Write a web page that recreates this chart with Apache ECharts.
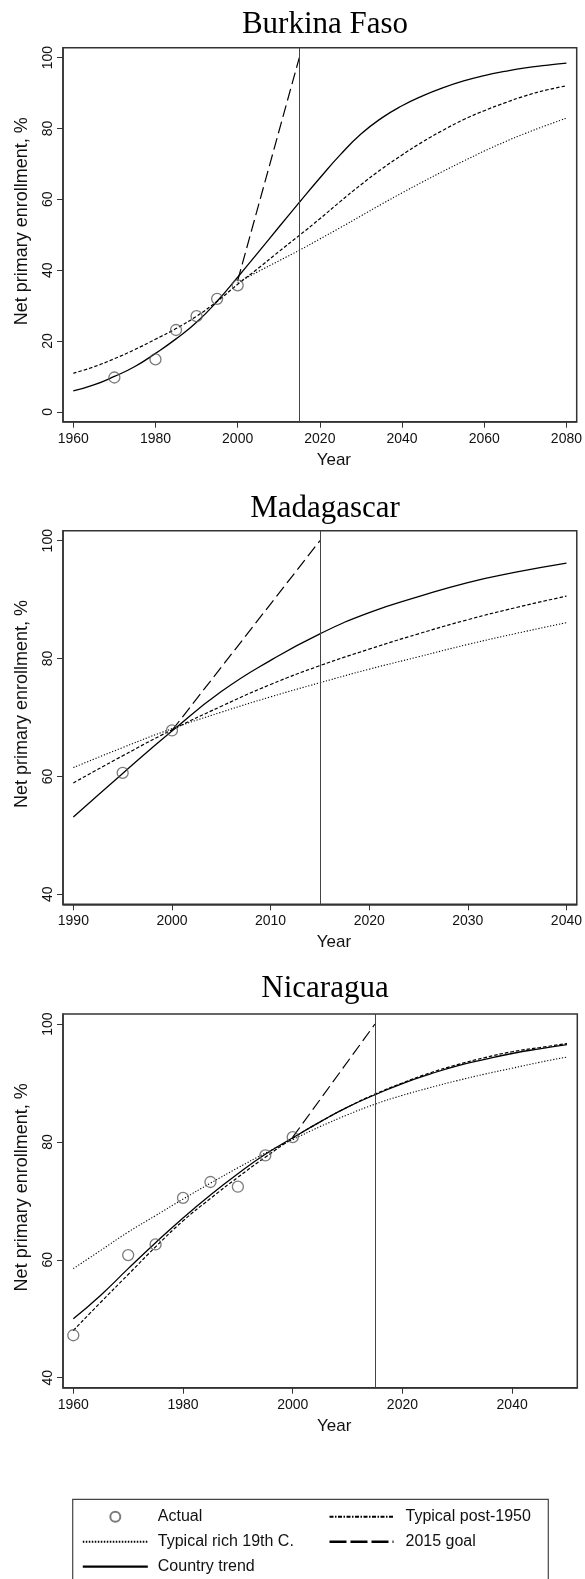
<!DOCTYPE html>
<html>
<head>
<meta charset="utf-8">
<script src="https://cdn.jsdelivr.net/npm/echarts@6/dist/echarts.min.js"></script>
<style>
html,body{margin:0;padding:0;background:#fff;}
#chart{width:585px;height:1579px;}
</style>
</head>
<body>
<div id="chart"></div>
<script>
// ---------- DATA ----------
const countries = ['Burkina Faso', 'Madagascar', 'Nicaragua'];
const goalYear = 2015;

// Burkina Faso
const bfActualYears = [1970, 1980, 1985, 1990, 1995, 2000];
const bfActual = [9.7, 14.8, 23.1, 27.0, 31.9, 35.7];
const bfYears = [1960,1965,1970,1975,1980,1985,1990,1995,2000,2005,2010,2015,2020,2025,2030,2035,2040,2045,2050,2055,2060,2065,2070,2075,2080];
const bfTrend = [5.9,7.6,10.0,12.8,16.5,20.6,25.3,31.2,38.0,45.0,52.1,59.1,66.0,72.6,78.4,82.9,86.4,89.2,91.5,93.4,94.9,96.1,97.1,97.8,98.4];
const bfPost1950 = [10.9,12.7,15.0,17.6,20.5,23.5,27.0,31.2,36.0,40.5,45.2,49.8,54.5,59.4,64.1,68.5,72.5,76.2,79.5,82.5,85.0,87.2,89.2,90.8,92.0];
const bfRichYears = [2000,2005,2010,2015,2020,2025,2030,2035,2040,2045,2050,2055,2060,2065,2070,2075,2080];
const bfRich19 = [36.5,39.6,42.6,45.6,48.8,52.0,55.3,58.6,61.8,64.9,67.9,70.8,73.6,76.2,78.6,80.8,82.9];
const bfGoalYears = [2000, 2015];
const bfGoal = [37.0, 100];

// Madagascar
const mgActualYears = [1995, 2000];
const mgActual = [60.6, 67.8];
const mgYears = [1990,1995,2000,2005,2010,2015,2020,2025,2030,2035,2040];
const mgTrend = [53.1,60.5,67.7,74.4,79.7,84.2,87.8,90.5,92.9,94.7,96.2];
const mgPost1950 = [58.9,63.5,67.9,71.9,75.6,78.8,81.6,84.2,86.6,88.7,90.6];
const mgRich19 = [61.5,64.9,68.1,70.9,73.5,75.9,78.2,80.3,82.4,84.3,86.1];
const mgGoalYears = [2000, 2015];
const mgGoal = [67.8, 100];

// Nicaragua
const niActualYears = [1960, 1970, 1975, 1980, 1985, 1990, 1995, 2000];
const niActual = [47.2, 60.8, 62.6, 70.5, 73.2, 72.4, 77.7, 80.8];
const niYears = [1960,1965,1970,1975,1980,1985,1990,1995,2000,2005,2010,2015,2020,2025,2030,2035,2040,2045,2050];
const niTrend = [50.0,54.0,58.5,62.9,67.1,71.0,74.6,77.9,80.7,83.4,85.9,88.0,89.9,91.5,92.9,94.0,95.0,95.8,96.5];
const niPost1950 = [48.0,52.8,57.5,62.2,66.6,70.4,74.0,77.4,80.6,83.4,85.9,88.1,90.0,91.7,93.1,94.3,95.3,96.0,96.7];
const niRich19 = [58.5,61.6,64.7,67.5,70.3,73.0,75.6,78.1,80.4,82.6,84.6,86.4,87.9,89.2,90.4,91.5,92.5,93.5,94.4];
const niGoalYears = [2000, 2015];
const niGoal = [80.8, 100];

// Tick labels
const bfXTicks = [1960, 1980, 2000, 2020, 2040, 2060, 2080];
const bfYTicks = [0, 20, 40, 60, 80, 100];
const mgXTicks = [1990, 2000, 2010, 2020, 2030, 2040];
const mgYTicks = [40, 60, 80, 100];
const niXTicks = [1960, 1980, 2000, 2020, 2040];
const niYTicks = [40, 60, 80, 100];

// ---------- BUILD ----------
const zip = (xs, ys) => xs.map((x, i) => [x, ys[i]]);
const SANS = 'Liberation Sans, Arial, Helvetica, sans-serif';
const SERIF = 'Liberation Serif, Times New Roman, serif';
const INK = '#111';
const plain = v => String(v);

const panels = [
  {title: countries[0], top: 47.7, height: 374, xMin: 1957.5, xMax: 2082.5, yMin: -2.78, yMax: 102.78,
   xTicks: bfXTicks, yTicks: bfYTicks, titleTop: 4,
   actual: zip(bfActualYears, bfActual), trend: zip(bfYears, bfTrend), post: zip(bfYears, bfPost1950),
   rich: zip(bfRichYears, bfRich19), goal: zip(bfGoalYears, bfGoal)},
  {title: countries[1], top: 530.7, height: 373.6, xMin: 1988.95, xMax: 2041.05, yMin: 38.3, yMax: 101.7,
   xTicks: mgXTicks, yTicks: mgYTicks, titleTop: 488,
   actual: zip(mgActualYears, mgActual), trend: zip(mgYears, mgTrend), post: zip(mgYears, mgPost1950),
   rich: zip(mgYears, mgRich19), goal: zip(mgGoalYears, mgGoal)},
  {title: countries[2], top: 1014, height: 373.7, xMin: 1958.12, xMax: 2051.88, yMin: 38.3, yMax: 101.7,
   xTicks: niXTicks, yTicks: niYTicks, titleTop: 968,
   actual: zip(niActualYears, niActual), trend: zip(niYears, niTrend), post: zip(niYears, niPost1950),
   rich: zip(niYears, niRich19), goal: zip(niGoalYears, niGoal)}
];

const grids = [], xAxes = [], yAxes = [], titles = [], series = [];
panels.forEach((p, i) => {
  grids.push({left: 63, width: 514.3, top: p.top, height: p.height, show: true,
    borderColor: '#333', borderWidth: 1.5, backgroundColor: '#fff'});
  titles.push({text: p.title, left: 320, textAlign: 'center', top: p.titleTop,
    textStyle: {fontFamily: SERIF, fontSize: 31, fontWeight: 'normal', color: '#000'}});
  xAxes.push({type: 'value', gridIndex: i, min: p.xMin, max: p.xMax,
    axisLine: {show: true, onZero: false, lineStyle: {color: '#333', width: 1.5}},
    axisTick: {show: true, length: 6, customValues: p.xTicks, lineStyle: {color: '#333', width: 1}},
    axisLabel: {customValues: p.xTicks, formatter: plain, fontSize: 14, color: INK, margin: 10, fontFamily: SANS},
    splitLine: {show: false},
    name: 'Year', nameLocation: 'middle', nameGap: 30,
    nameTextStyle: {fontSize: 17, color: INK, fontFamily: SANS, padding: [0, 0, 0, 28]}});
  yAxes.push({type: 'value', gridIndex: i, min: p.yMin, max: p.yMax,
    axisLine: {show: true, onZero: false, lineStyle: {color: '#333', width: 1.5}},
    axisTick: {show: true, length: 6, customValues: p.yTicks, lineStyle: {color: '#333', width: 1}},
    axisLabel: {customValues: p.yTicks, formatter: plain, fontSize: 14, color: INK, margin: 8, rotate: 90, fontFamily: SANS},
    splitLine: {show: false},
    name: 'Net primary enrollment, %', nameLocation: 'middle', nameGap: 32, nameRotate: 90,
    nameTextStyle: {fontSize: 18, color: INK, fontFamily: SANS, padding: [0, 0, 0, 27]}});

  const base = {xAxisIndex: i, yAxisIndex: i, silent: true, animation: false};
  series.push(Object.assign({}, base, {name: 'Typical rich 19th C.', type: 'line', data: p.rich,
    smooth: true, showSymbol: false, symbol: 'none',
    lineStyle: {color: '#000', width: 1.1, type: [1.2, 1.8]}, itemStyle: {color: '#000'}}));
  series.push(Object.assign({}, base, {name: 'Typical post-1950', type: 'line', data: p.post,
    smooth: true, showSymbol: false, symbol: 'none',
    lineStyle: {color: '#000', width: 1.2, type: [3.5, 2]}, itemStyle: {color: '#000'}}));
  series.push(Object.assign({}, base, {name: 'Country trend', type: 'line', data: p.trend,
    smooth: true, showSymbol: false, symbol: 'none',
    lineStyle: {color: '#000', width: 1.3, type: 'solid'}, itemStyle: {color: '#000'},
    markLine: {silent: true, symbol: 'none', label: {show: false}, animation: false,
      lineStyle: {color: '#444', width: 1, type: 'solid'}, data: [{xAxis: goalYear}]}}));
  series.push(Object.assign({}, base, {name: '2015 goal', type: 'line', data: p.goal,
    showSymbol: false, symbol: 'none',
    lineStyle: {color: '#000', width: 1.2, type: [12, 5]}, itemStyle: {color: '#000'}}));
  series.push(Object.assign({}, base, {name: 'Actual', type: 'scatter', data: p.actual,
    symbol: 'circle', symbolSize: 11, z: 5,
    itemStyle: {color: 'rgba(0,0,0,0)', borderColor: '#5a5a5a', borderWidth: 1.3}}));
});

const legendText = {fontSize: 16, lineHeight: 16, color: INK, fontFamily: SANS};
const hideSym = {opacity: 0};
const chart = echarts.init(document.getElementById('chart'), null, {renderer: 'canvas'});
chart.setOption({
  backgroundColor: '#fff',
  animation: false,
  title: titles,
  grid: grids,
  xAxis: xAxes,
  yAxis: yAxes,
  series: series,
  legend: [
    {orient: 'vertical', left: 81.7, top: 1508.7, padding: 0, itemWidth: 65, itemHeight: 10, itemGap: 9,
     selectedMode: false,
     textStyle: Object.assign({}, legendText, {padding: [0, 0, 0, 5]}),
     data: [
       {name: 'Actual', itemStyle: {color: 'rgba(0,0,0,0)', borderColor: '#5a5a5a', borderWidth: 2}},
       {name: 'Typical rich 19th C.', itemStyle: hideSym, lineStyle: {width: 2, type: [1.5, 1.5]}},
       {name: 'Country trend', itemStyle: hideSym, lineStyle: {width: 2.2}}
     ]},
    {orient: 'vertical', left: 328.3, top: 1508.7, padding: 0, itemWidth: 64, itemHeight: 10, itemGap: 9,
     selectedMode: false,
     textStyle: Object.assign({}, legendText, {padding: [0, 0, 0, 7]}),
     data: [
       {name: 'Typical post-1950', itemStyle: hideSym, lineStyle: {width: 2, type: [4, 1.5, 1.5, 1.5]}},
       {name: '2015 goal', itemStyle: hideSym, lineStyle: {width: 2.4, type: [17, 4]}}
     ]}
  ],
  graphic: [
    {type: 'rect', silent: true, shape: {x: 72.7, y: 1499.3, width: 475.6, height: 100},
     style: {fill: 'none', stroke: '#444', lineWidth: 1.2}}
  ]
});
</script>
</body>
</html>
